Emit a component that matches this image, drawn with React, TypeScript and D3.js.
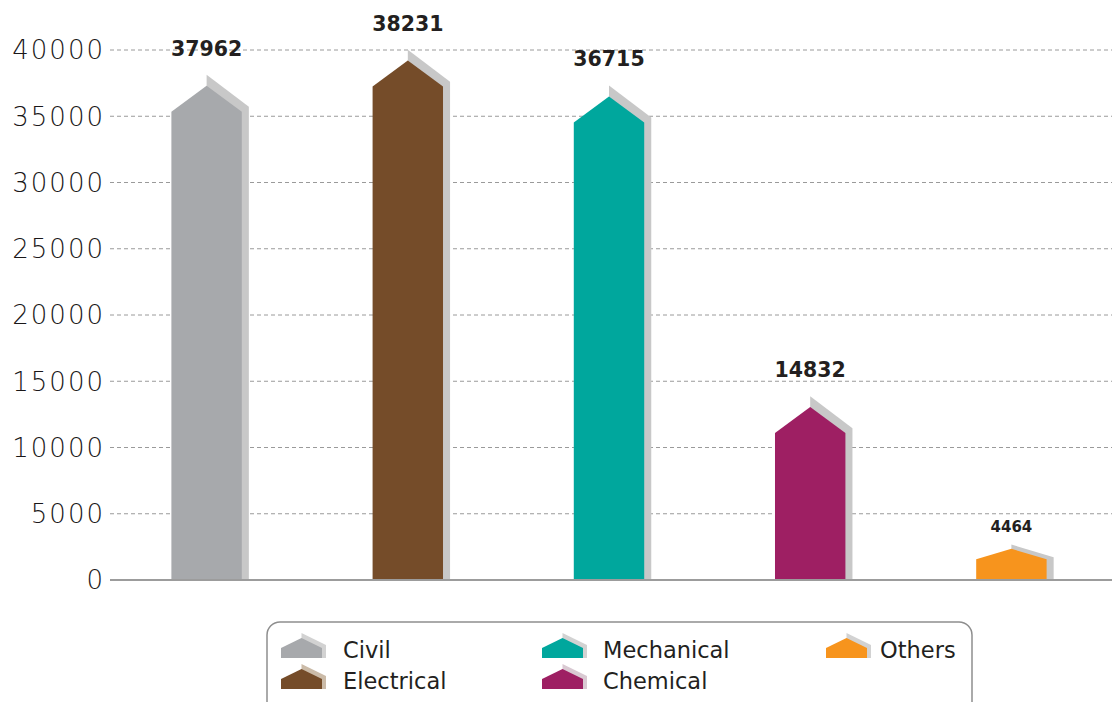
import * as d3 from "d3";
import { useEffect, useRef } from "react";

const categories = ["Civil", "Electrical", "Mechanical", "Chemical", "Others"];
// numbers printed above the bars
const labelValues = [37962, 38231, 36715, 14832, 4464];
// heights of the drawn arrow tips
const peakValues = [37300, 39200, 36500, 13050, 2350];
const colors = ["#a7a9ac", "#754c29", "#00a79d", "#9e1f63", "#f7941d"];
const legendShadows = ["#d2d2d2", "#cbbba8", "#d2d2d2", "#d9c9d2", "#d2d2d2"];
const yTicks = [0, 5000, 10000, 15000, 20000, 25000, 30000, 35000, 40000];

const W = 1112;
const H = 702;

export default function App() {
  const svgRef = useRef<SVGSVGElement>(null);

  useEffect(() => {
    if (!svgRef.current) return;
    const svg = d3.select(svgRef.current);
    svg.selectAll("*").remove();

    const margin = { left: 106, right: 0, top: 50, bottom: 122 };

    const x = d3
      .scaleBand()
      .domain(categories)
      .range([margin.left, W - margin.right])
      .paddingInner(0.65)
      .paddingOuter(0.325);

    const y = d3
      .scaleLinear()
      .domain([0, 40000])
      .range([H - margin.bottom, margin.top]);

    // dashed grid
    svg
      .append("g")
      .selectAll("line")
      .data(yTicks.filter((t) => t > 0))
      .join("line")
      .attr("x1", 110)
      .attr("x2", W)
      .attr("y1", (d) => y(d))
      .attr("y2", (d) => y(d))
      .attr("stroke", "#9a9a9a")
      .attr("stroke-width", 1)
      .attr("stroke-dasharray", "4,3");

    // tick labels
    svg
      .append("g")
      .selectAll("text")
      .data(yTicks)
      .join("text")
      .attr("x", 103 + 2)
      .attr("y", (d) => y(d))
      .attr("dy", "0.36em")
      .attr("text-anchor", "end")
      .attr("font-family", "'DejaVu Sans', sans-serif")
      .attr("font-weight", 200)
      .attr("font-size", 26)
      .attr("letter-spacing", 2)
      .attr("fill", "#1a1718")
      .text((d) => d);

    // bars
    const base = y(0);
    const bw = x.bandwidth();
    const bars = svg
      .append("g")
      .selectAll("g")
      .data(categories)
      .join("g");

    const geom = (i: number) => {
      const left = x(categories[i]) as number;
      const right = left + bw;
      const cx = left + bw / 2;
      const top = y(peakValues[i]);
      const roof = Math.min(26, (base - top) * 0.33);
      return { left, right, cx, top, roof, shoulder: top + roof };
    };

    bars
      .append("path")
      .attr("fill", "#c8c8c8")
      .attr("d", (_, i) => {
        const g = geom(i);
        const dy = g.roof * 0.42;
        const dx = bw * 0.1;
        return `M${g.cx},${g.top - dy}L${g.right + dx},${g.shoulder - dy * 0.45}L${g.right + dx},${base}L${g.cx},${base}Z`;
      });

    bars
      .append("path")
      .attr("fill", (_, i) => colors[i])
      .attr("d", (_, i) => {
        const g = geom(i);
        return `M${g.left},${base}L${g.left},${g.shoulder}L${g.cx},${g.top}L${g.right},${g.shoulder}L${g.right},${base}Z`;
      });

    bars
      .append("text")
      .attr("x", (_, i) => geom(i).cx)
      .attr("y", (_, i) => geom(i).top - (labelValues[i] < 10000 ? 17 : 30))
      .attr("text-anchor", "middle")
      .attr("font-family", "'DejaVu Sans', sans-serif")
      .attr("font-weight", 700)
      .attr("font-size", (_, i) => (labelValues[i] < 10000 ? 15 : 20.5))
      .attr("fill", "#231f20")
      .text((_, i) => labelValues[i]);

    // axis base line
    svg
      .append("line")
      .attr("x1", 110)
      .attr("x2", W)
      .attr("y1", base)
      .attr("y2", base)
      .attr("stroke", "#9c9c9c")
      .attr("stroke-width", 2);

    // legend
    const legend = svg.append("g");
    legend
      .append("rect")
      .attr("x", 267)
      .attr("y", 622)
      .attr("width", 705)
      .attr("height", 100)
      .attr("rx", 13)
      .attr("fill", "none")
      .attr("stroke", "#8e8e8e")
      .attr("stroke-width", 1.5);

    const colX = [281, 542, 826];
    const textX = [62, 61, 54];
    const rowY = [658, 689];
    const items = legend
      .selectAll("g")
      .data(categories)
      .join("g")
      .attr("transform", (_, i) => `translate(${colX[Math.floor(i / 2)]},${rowY[i % 2]})`);

    items
      .append("path")
      .attr("fill", (_, i) => legendShadows[i])
      .attr("d", "M20.5,-25L45,-13L45,0L20.5,0Z");
    items
      .append("path")
      .attr("fill", (_, i) => colors[i])
      .attr("d", "M0,0L0,-10L20.5,-20L41,-10L41,0Z");
    items
      .append("text")
      .attr("x", (_, i) => textX[Math.floor(i / 2)])
      .attr("y", 0)
      .attr("font-family", "'DejaVu Sans', sans-serif")
      .attr("font-size", 22.5)
      .attr("fill", "#231f20")
      .text((d) => d);
  }, []);

  return (
    <svg
      ref={svgRef}
      width={W}
      height={H}
      style={{ position: "absolute", left: 0, top: 0, background: "#fff" }}
    />
  );
}
